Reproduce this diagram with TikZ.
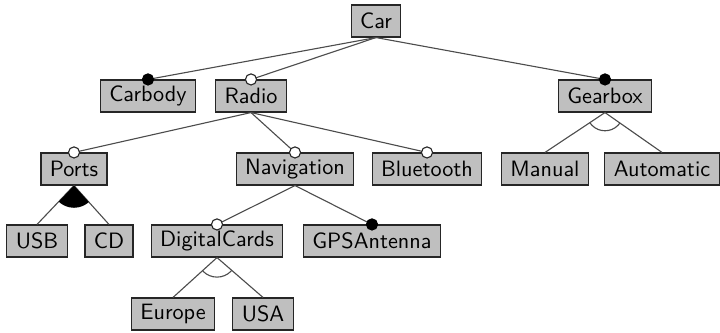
\documentclass[tikz,border=0pt]{standalone}
\usetikzlibrary{calc}

\tikzset{every picture/.style={line width=0.5pt}}
\tikzset{
  feature/.style={draw=black!85, fill=black!25, minimum height=14.4pt, inner xsep=4pt, inner ysep=0pt, font=\sffamily},
  link/.style={draw=black!70},
  mandatory/.style={fill=black},
  optional/.style={fill=white, draw=black!85}
}

\begin{document}
\begin{tikzpicture}[x=0.45pt,y=0.45pt,yscale=-1,xscale=1]
\useasboundingbox (0,0) rectangle (720,333);

% Features
\node [feature] (car) at (376,21) {Car};
\node [feature] (carbody) at (148,96) {Carbody};
\node [feature] (radio) at (251,96) {Radio};
\node [feature] (gearbox) at (605,96) {Gearbox};
\node [feature] (ports) at (74,169) {Ports};
\node [feature] (navigation) at (295,169) {Navigation};
\node [feature] (bluetooth) at (427,169) {Bluetooth};
\node [feature] (manual) at (545,169) {Manual};
\node [feature] (automatic) at (662,169) {Automatic};
\node [feature] (usb) at (37,241) {USB};
\node [feature] (cd) at (109,241) {CD};
\node [feature] (digitalcards) at (217,241) {DigitalCards};
\node [feature] (gpsantenna) at (372,241) {GPSAntenna};
\node [feature] (europe) at (173,314) {Europe};
\node [feature] (usa) at (263,314) {USA};

% Links
\draw [link] (car.south) -- (carbody.north);
\draw [link] (car.south) -- (radio.north);
\draw [link] (car.south) -- (gearbox.north);
\draw [link] (radio.south) -- (ports.north);
\draw [link] (radio.south) -- (navigation.north);
\draw [link] (radio.south) -- (bluetooth.north);
\draw [link] (gearbox.south) -- (manual.north);
\draw [link] (gearbox.south) -- (automatic.north);
\draw [link] (ports.south) -- (usb.north);
\draw [link] (ports.south) -- (cd.north);
\draw [link] (navigation.south) -- (digitalcards.north);
\draw [link] (navigation.south) -- (gpsantenna.north);
\draw [link] (digitalcards.south) -- (europe.north);
\draw [link] (digitalcards.south) -- (usa.north);

% Mandatory / optional markers
\draw [mandatory] (carbody.north) circle (2.5pt);
\draw [optional] (radio.north) circle (2.5pt);
\draw [mandatory] (gearbox.north) circle (2.5pt);
\draw [optional] (ports.north) circle (2.5pt);
\draw [optional] (navigation.north) circle (2.5pt);
\draw [optional] (bluetooth.north) circle (2.5pt);
\draw [optional] (digitalcards.north) circle (2.5pt);
\draw [mandatory] (gpsantenna.north) circle (2.5pt);

% Alternative groups
\begin{scope}
\clip (gearbox.south) -- (manual.north) -- (automatic.north) -- cycle;
\draw [link] (gearbox.south) circle (8.2pt);
\end{scope}
\begin{scope}
\clip (digitalcards.south) -- (europe.north) -- (usa.north) -- cycle;
\draw [link] (digitalcards.south) circle (8.8pt);
\end{scope}
% Or group
\begin{scope}
\clip (ports.south) -- (usb.north) -- (cd.north) -- cycle;
\fill [black] (ports.south) circle (10pt);
\end{scope}

\end{tikzpicture}
\end{document}
